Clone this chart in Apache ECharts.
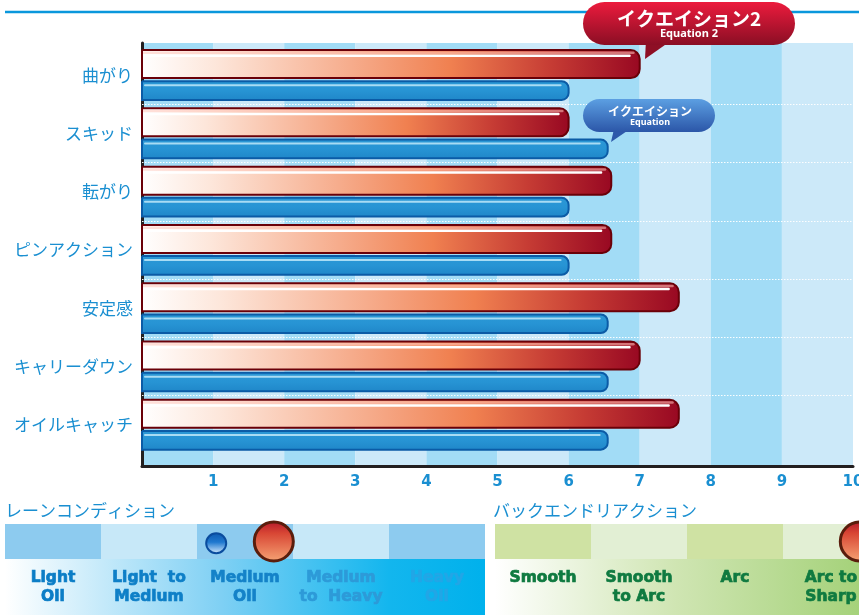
<!DOCTYPE html>
<html>
<head>
<meta charset="utf-8">
<script src="https://cdn.jsdelivr.net/npm/echarts@6/dist/echarts.min.js"></script>
<style>
html,body{margin:0;padding:0;background:#fff;}
#chart{width:859px;height:616px;}
</style>
</head>
<body>
<div id="chart"></div>
<script>
// ---- data ----
const categories = ['曲がり', 'スキッド', '転がり', 'ピンアクション', '安定感', 'キャリーダウン', 'オイルキャッチ'];
const equation2 = [7.0, 6.0, 6.6, 6.6, 7.55, 7.0, 7.55];
const equation = [6.0, 6.55, 6.0, 6.0, 6.55, 6.55, 6.55];
const xMin = 0, xMax = 10, xStep = 1;

const laneConditions = ['Light\nOil', 'Light  to\nMedium', 'Medium\nOil', 'Medium\nto  Heavy', 'Heavy\nOil'];
const laneEquation = [1.7];
const laneEquation2 = [2.3];
const backendReactions = ['Smooth', 'Smooth\nto Arc', 'Arc', 'Arc to\nSharp', 'Sharp'];
const backendEquation2 = [3.3];

const series1Name = 'イクエイション2';
const series1Sub = 'Equation 2';
const series2Name = 'イクエイション';
const series2Sub = 'Equation';

// ---- chart ----
const chart = echarts.init(document.getElementById('chart'), null, {renderer: 'canvas'});
const LG = echarts.graphic.LinearGradient;

function renderRed(params, api) {
  const idx = api.value(1);
  const s = api.coord([0, idx]);
  const e = api.coord([api.value(0), idx]);
  const band = api.size([0, 1])[1];
  const top = s[1] - band * 0.43;
  const h = band * 0.48;
  const w = e[0] - s[0];
  return {
    type: 'group',
    children: [
      {type: 'rect', shape: {x: s[0], y: top, width: w, height: h, r: [0, 9, 9, 0]},
       style: {fill: new LG(0, 0, 1, 0, [
         {offset: 0, color: '#ffffff'},
         {offset: 0.15, color: '#fde6da'},
         {offset: 0.42, color: '#f6ac8c'},
         {offset: 0.62, color: '#f08050'},
         {offset: 0.82, color: '#c63c34'},
         {offset: 1, color: '#980822'}
       ]), stroke: '#6a0008', lineWidth: 2}},
      {type: 'rect', shape: {x: s[0] + 1, y: top + 1.5, width: w - 6, height: 2.5, r: [0, 3, 3, 0]},
       style: {fill: 'rgba(255,200,190,0.55)'}},
      {type: 'rect', shape: {x: s[0] + 2, y: top + 4.5, width: w - 11, height: 2.5, r: 1},
       style: {fill: '#ffffff'}}
    ]
  };
}

function renderBlue(params, api) {
  const idx = api.value(1);
  const s = api.coord([0, idx]);
  const e = api.coord([api.value(0), idx]);
  const band = api.size([0, 1])[1];
  const top = s[1] + band * 0.105;
  const h = band * 0.32;
  const w = e[0] - s[0];
  return {
    type: 'group',
    children: [
      {type: 'rect', shape: {x: s[0], y: top, width: w, height: h, r: [0, 7, 7, 0]},
       style: {fill: new LG(0, 0, 0, 1, [
         {offset: 0, color: '#2b98d6'},
         {offset: 0.5, color: '#2794d4'},
         {offset: 1, color: '#1f86c8'}
       ]), stroke: '#0b5ba6', lineWidth: 2}},
      {type: 'rect', shape: {x: s[0] + 2, y: top + 3, width: w - 9, height: 2, r: 1},
       style: {fill: '#a8dcf4'}}
    ]
  };
}

function txt(x, y, text, font, fill, align, z) {
  return {type: 'text', x: x, y: y, z: z || 100,
    style: {text: text, font: font, fill: fill, align: align || 'center', verticalAlign: 'middle',
            textAlign: align || 'center', textVerticalAlign: 'middle'}};
}

const redGrad = new LG(0, 0, 0, 1, [{offset: 0, color: '#ec1b3d'}, {offset: 1, color: '#8a0e24'}]);
const blueGrad = new LG(0, 0, 0, 1, [{offset: 0, color: '#5c9fe2'}, {offset: 1, color: '#2b56a8'}]);
const laneColors = ['#0b7dc6', '#0e7fc7', '#1482c8', '#2d9ad8', '#22a6e6'];
const laneRich = {};
laneColors.forEach(function (c, i) {
  laneRich['c' + i] = {color: c, textBorderColor: c, textBorderWidth: 0.7, fontFamily: 'DejaVu Sans',
                       fontWeight: 'bold', fontSize: 15.5, lineHeight: 19};
});

const option = {
  backgroundColor: '#ffffff',
  animation: false,
  grid: [
    {left: 142, right: 6, top: 43, bottom: 150, outerBoundsMode: 'none', containLabel: false},
    {left: 142, right: 6, top: 46, bottom: 162, outerBoundsMode: 'none', containLabel: false},
    {left: 5, right: 374, top: 524, bottom: 57, outerBoundsMode: 'none', containLabel: false},
    {left: 495, right: -116, top: 524, bottom: 57, outerBoundsMode: 'none', containLabel: false}
  ],
  xAxis: [
    {gridIndex: 0, type: 'value', min: xMin, max: xMax, interval: xStep,
     axisLine: {show: true, onZero: false, lineStyle: {color: '#231f20', width: 3}},
     axisTick: {show: false},
     splitLine: {show: false},
     splitArea: {show: true, areaStyle: {color: ['#a2dcf6', '#cce9f9']}},
     axisLabel: {show: true, showMinLabel: false, margin: 9, color: '#1a8fd1',
                 fontFamily: 'DejaVu Sans', fontWeight: 'bold', fontSize: 15}},
    {gridIndex: 1, type: 'value', min: xMin, max: xMax, show: false},
    {gridIndex: 2, type: 'category', data: laneConditions, position: 'bottom',
     axisLine: {show: false}, axisTick: {show: false},
     splitArea: {show: true, interval: 0, areaStyle: {color: ['#8dcbef', '#c7e8f8']}},
     axisLabel: {interval: 0, margin: 9, lineHeight: 19,
       formatter: function (v, i) { return v.split('\n').map(function (l) { return '{c' + i + '|' + l + '}'; }).join('\n'); },
       rich: laneRich}},
    {gridIndex: 2, type: 'value', min: -0.5, max: 4.5, show: false},
    {gridIndex: 3, type: 'category', data: backendReactions, position: 'bottom',
     axisLine: {show: false}, axisTick: {show: false},
     splitArea: {show: true, interval: 0, areaStyle: {color: ['#cfe2a3', '#e2efd4']}},
     axisLabel: {interval: 0, margin: 9, lineHeight: 19, fontFamily: 'DejaVu Sans', fontWeight: 'bold', fontSize: 15.5,
       textBorderWidth: 0.7, textBorderColor: '#0f7a40', color: '#0f7a40'}},
    {gridIndex: 3, type: 'value', min: -0.5, max: 4.5, show: false}
  ],
  yAxis: [
    {gridIndex: 0, type: 'value', min: 0, max: 1,
     axisLine: {show: true, onZero: false, lineStyle: {color: '#231f20', width: 3}},
     axisTick: {show: false}, axisLabel: {show: false}, splitLine: {show: false}},
    {gridIndex: 1, type: 'category', data: categories, inverse: true, z: 2,
     axisLine: {show: false}, axisTick: {show: false},
     axisLabel: {margin: 9, color: '#1a8fd1', fontSize: 17, fontFamily: '"Noto Sans CJK JP"'},
     splitLine: {show: true, showMinLine: false, showMaxLine: false,
                 lineStyle: {color: 'rgba(255,255,255,0.95)', width: 1, type: [1.5, 1.5]}}},
    {gridIndex: 2, type: 'value', min: 0, max: 1, show: false},
    {gridIndex: 3, type: 'value', min: 0, max: 1, show: false}
  ],
  series: [
    {name: series1Name, type: 'custom', xAxisIndex: 1, yAxisIndex: 1, z: 3,
     renderItem: renderRed, encode: {x: 0, y: 1},
     data: categories.map((c, i) => [equation2[i], c])},
    {name: series2Name, type: 'custom', xAxisIndex: 1, yAxisIndex: 1, z: 3,
     renderItem: renderBlue, encode: {x: 0, y: 1},
     data: categories.map((c, i) => [equation[i], c])},
    {name: series2Name + ' lane', type: 'scatter', xAxisIndex: 3, yAxisIndex: 2, clip: false, z: 5,
     symbolSize: 20,
     itemStyle: {color: new LG(0, 0, 0, 1, [{offset: 0, color: '#0c58ae'}, {offset: 0.45, color: '#1f78cf'}, {offset: 1, color: '#dcefff'}]),
                 borderColor: '#0a4c9e', borderWidth: 2, opacity: 1},
     data: laneEquation.map(v => [v, 0.45])},
    {name: series1Name + ' lane', type: 'scatter', xAxisIndex: 3, yAxisIndex: 2, clip: false, z: 5,
     symbolSize: 39,
     itemStyle: {color: new LG(0, 0, 0, 1, [{offset: 0, color: '#b3162a'}, {offset: 0.3, color: '#d84634'}, {offset: 1, color: '#f7a676'}]),
                 borderColor: '#5a1d0c', borderWidth: 3, opacity: 1},
     data: laneEquation2.map(v => [v, 0.5])},
    {name: series1Name + ' backend', type: 'scatter', xAxisIndex: 5, yAxisIndex: 3, clip: false, z: 5,
     symbolSize: 39,
     itemStyle: {color: new LG(0, 0, 0, 1, [{offset: 0, color: '#b3162a'}, {offset: 0.3, color: '#d84634'}, {offset: 1, color: '#f7a676'}]),
                 borderColor: '#5a1d0c', borderWidth: 3, opacity: 1},
     data: backendEquation2.map(v => [v, 0.5])}
  ],
  graphic: [
    {type: 'line', z: 10, shape: {x1: 5, y1: 12, x2: 859, y2: 12}, style: {stroke: '#0a97dc', lineWidth: 2.5}},
    {type: 'rect', z: -10, shape: {x: 5, y: 559, width: 480, height: 56},
     style: {fill: new LG(0, 0, 1, 0, [{offset: 0, color: '#ffffff'}, {offset: 0.45, color: '#7fd0f4'}, {offset: 0.8, color: '#13b6ee'}, {offset: 1, color: '#00b1ec'}])}},
    {type: 'rect', z: -10, shape: {x: 495, y: 559, width: 364, height: 56},
     style: {fill: new LG(0, 0, 1, 0, [{offset: 0, color: '#ffffff'}, {offset: 0.5, color: '#cfe5b2'}, {offset: 1, color: '#a5d27a'}])}},
    txt(5, 511, 'レーンコンディション', '17px "Noto Sans CJK JP"', '#1a8fd1', 'left'),
    txt(493, 511, 'バックエンドリアクション', '17px "Noto Sans CJK JP"', '#1a8fd1', 'left'),
    {type: 'group', z: 100, children: [
      {type: 'polygon', z: 100, shape: {points: [[646, 40], [672, 40], [645, 59]]}, style: {fill: '#8e0f25'}},
      {type: 'rect', z: 100, shape: {x: 583, y: 2, width: 212, height: 43, r: 21.5}, style: {fill: redGrad}},
      txt(689, 19, series1Name, 'bold 19px "Noto Sans CJK JP"', '#ffffff', 'center', 101),
      txt(689, 34, series1Sub, 'bold 11px "Noto Sans"', '#ffffff', 'center', 101)
    ]},
    {type: 'group', z: 100, children: [
      {type: 'polygon', z: 100, shape: {points: [[614, 129], [630, 129], [611, 142]]}, style: {fill: '#2c58aa'}},
      {type: 'rect', z: 100, shape: {x: 583, y: 99, width: 132, height: 33, r: 16.5}, style: {fill: blueGrad}},
      txt(650, 111, series2Name, 'bold 12px "Noto Sans CJK JP"', '#ffffff', 'center', 101),
      txt(650, 122.5, series2Sub, 'bold 9px "Noto Sans"', '#ffffff', 'center', 101)
    ]}
  ]
};
chart.setOption(option);
</script>
</body>
</html>
